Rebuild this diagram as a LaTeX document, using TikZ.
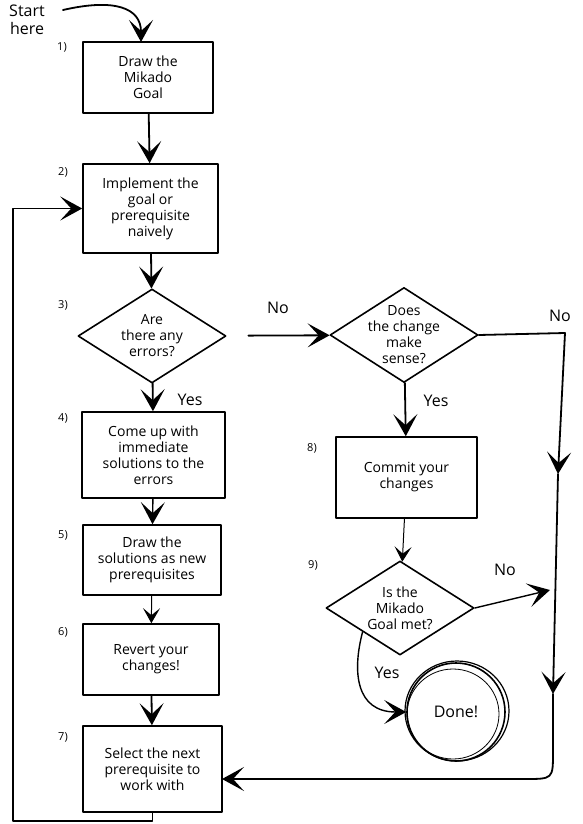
\documentclass[tikz,border=0pt]{standalone}
\usepackage{fontspec}
\setmainfont{Open Sans}
\usetikzlibrary{arrows.meta,shapes.geometric}

\begin{document}
\begin{tikzpicture}[line join=round, line cap=round,
  >={Stealth[length=22pt,width=24pt,inset=11pt]},
  font=\fontsize{14}{16}\selectfont, x=1pt, y=-1pt,
  box/.style={draw, line width=1.6pt, align=center, inner sep=0pt},
  decision/.style={diamond, draw, line width=1.6pt, inner sep=0pt,
    minimum width=148pt, minimum height=94pt},
  num/.style={font=\fontsize{11}{12}\selectfont},
  answer/.style={font=\fontsize{16}{18}\selectfont},
  flow/.style={->, line width=1.8pt},
  thinflow/.style={-{Stealth[length=15pt,width=17pt,inset=7pt]}, line width=1pt}]
\useasboundingbox (0,0) rectangle (582,824);
\path
(148,77.5) node[box, minimum width=130pt, minimum height=71pt] (goal) {Draw the\\Mikado\\Goal}
(150.5,208.5) node[box, minimum width=135pt, minimum height=89pt] (impl) {Implement the\\goal or\\prerequisite\\naively}
(152,336) node[decision, label={[align=center]center:{Are\\there any\\errors?}}] (errors) {}
(404,335) node[decision, minimum height=95pt, label={[align=center]center:{Does\\the change\\make\\sense?}}] (sense) {}
(153.5,455) node[box, minimum width=143pt, minimum height=86pt] (solve) {Come up with\\immediate\\solutions to the\\errors}
(152,560) node[box, minimum width=138pt, minimum height=70pt] (draw) {Draw the\\solutions as new\\prerequisites}
(151,659.5) node[box, minimum width=136pt, minimum height=71pt] (revert) {Revert your\\changes!}
(152.5,769) node[box, minimum width=139pt, minimum height=86pt] (select) {Select the next\\prerequisite to\\work with}
(406.5,477.5) node[box, minimum width=141pt, minimum height=81pt] (commit) {Commit your\\changes}
(400,608) node[decision, label={[align=center]center:{Is the\\Mikado\\Goal met?}}] (met) {}
(456,712) node[circle, draw, line width=1.6pt, minimum size=98pt, answer] (done) {Done!}
;
% step numbers
\path
(62,47) node[num] (n1) {1)}
(63,172) node[num] (n2) {2)}
(63,305) node[num] (n3) {3)}
(63,418) node[num] (n4) {4)}
(63,535) node[num] (n5) {5)}
(63,632) node[num] (n6) {6)}
(63,737) node[num] (n7) {7)}
(312,448) node[num] (n8) {8)}
(313,565) node[num] (n9) {9)}
(27,20) node[answer, align=center] (start) {Start\\here}
(278,308) node[answer] (no3) {No}
(560,316) node[answer] (nosense) {No}
(190,400) node[answer] (yes3) {Yes}
(436,401) node[answer] (yessense) {Yes}
(505,570) node[answer] (nomet) {No}
(387,673) node[answer] (yesmet) {Yes}
;
\path
(63,10) coordinate (s0)
(141,42) coordinate (in1)
(565,333) coordinate (ne)
(558,474) coordinate (m1)
(553,694) coordinate (m2)
(553,752) coordinate (se)
(525,779) coordinate (sw)
(222,779) coordinate (in7)
(550,590) coordinate (j9)
;
\draw[flow] (s0) .. controls (115,-2) and (141,8) .. (in1);
\draw[flow] (goal) -- (impl);
\draw[flow] (impl) -- (errors);
\draw[flow] (errors) -- (solve);
\draw[flow, shorten <=22pt] (errors) -- (sense);
\draw[flow] (sense) -- (commit);
\draw[->, line width=1.4pt] (solve) -- (draw);
\draw[thinflow] (draw) -- (revert);
\draw[flow] (revert) -- (select);
\draw[thinflow] (commit) -- (met);
\draw[->, line width=1.4pt] (met.east) -- (j9);
\draw[->, line width=1.4pt] (met.south west) .. controls (352,672) and (356,712) .. (done.west);
\draw[flow] (select.south) |- (13,821) |- (impl.west);
\draw[flow] (sense.east) -- (ne) -- (m1);
\draw[flow] (m1) -- (m2);
\draw[flow] (m2) -- (se) .. controls (553,779) .. (sw) -- (in7);
% extra strokes round Done
\draw[line width=0.8pt] (done.center) ++(-3,2) ellipse [x radius=46pt, y radius=45pt];
\draw[line width=1.2pt] (done.center) ++(1,-1) ellipse [x radius=52pt, y radius=50pt];
\end{tikzpicture}
\end{document}
